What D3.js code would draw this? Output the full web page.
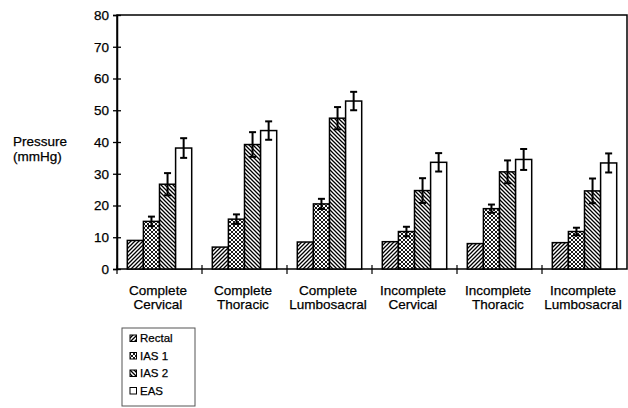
<!DOCTYPE html>
<html><head><meta charset="utf-8">
<script src="https://cdn.jsdelivr.net/npm/d3@7"></script>
<style>body{margin:0;background:#fff}svg{display:block}text{font-family:"Liberation Sans",Arial,sans-serif;fill:#000;stroke:#000;stroke-width:0.25px}</style>
</head><body><svg id="c" width="628" height="408"></svg>
<script>
const categories = [["Complete","Cervical"],["Complete","Thoracic"],["Complete","Lumbosacral"],["Incomplete","Cervical"],["Incomplete","Thoracic"],["Incomplete","Lumbosacral"]];
const seriesNames = ["Rectal","IAS 1","IAS 2","EAS"];
const rectal = [9.0, 6.9, 8.5, 8.6, 8.0, 8.3];
const rectalErr = [0.3, 0.3, 0.3, 0.3, 0.3, 0.3];
const ias1 = [15.0, 15.7, 20.5, 11.8, 19.0, 11.8];
const ias1Err = [1.5, 1.5, 1.6, 1.5, 1.3, 1.2];
const ias2 = [26.7, 39.2, 47.5, 24.7, 30.6, 24.6];
const ias2Err = [3.5, 3.9, 3.5, 3.9, 3.6, 3.9];
const eas = [38.1, 43.6, 52.9, 33.6, 34.5, 33.4];
const easErr = [3.1, 2.9, 2.9, 2.9, 3.3, 3.0];
const yTicks = [0,10,20,30,40,50,60,70,80];

const values = [rectal, ias1, ias2, eas];
const errs = [rectalErr, ias1Err, ias2Err, easErr];
const fills = ["url(#pRectal)","url(#pIas1)","url(#pIas2)","#fff"];

const svg = d3.select("#c");
const L=117, R=627, T=15, B=269;
const x = d3.scaleBand().domain(d3.range(categories.length)).range([L,R]).paddingInner(0).paddingOuter(0);
const xs = d3.scaleBand().domain(d3.range(seriesNames.length)).range([10.3, x.bandwidth()-10.3]).padding(0);
const y = d3.scaleLinear().domain([0,80]).range([B,T]);

const defs = svg.append("defs");
const p1 = defs.append("pattern").attr("id","pRectal").attr("patternUnits","userSpaceOnUse").attr("width",4).attr("height",4);
p1.append("rect").attr("width",4).attr("height",4).attr("fill","#fff");
p1.append("path").attr("d","M-1,1 l2,-2 M0,4 l4,-4 M3,5 l2,-2").attr("stroke","#000").attr("stroke-width",1.3);
const p3 = defs.append("pattern").attr("id","pIas2").attr("patternUnits","userSpaceOnUse").attr("width",4).attr("height",4);
p3.append("rect").attr("width",4).attr("height",4).attr("fill","#fff");
p3.append("path").attr("d","M-1,3 l2,2 M0,0 l4,4 M3,-1 l2,2").attr("stroke","#000").attr("stroke-width",1.3);
const p2 = defs.append("pattern").attr("id","pIas1").attr("patternUnits","userSpaceOnUse").attr("width",4).attr("height",4);
p2.append("rect").attr("width",4).attr("height",4).attr("fill","#fff");
p2.append("path").attr("d","M-1,1 l2,-2 M0,4 l4,-4 M3,5 l2,-2 M-1,3 l2,2 M0,0 l4,4 M3,-1 l2,2").attr("stroke","#000").attr("stroke-width",0.9);

// frame
svg.append("rect").attr("x",L).attr("y",T).attr("width",R-L).attr("height",B-T).attr("fill","none").attr("stroke","#000").attr("stroke-width",1.5);

// y axis
const ya = svg.append("g").attr("transform",`translate(${L},0)`)
  .call(d3.axisLeft(y).tickValues(yTicks).tickSize(4).tickPadding(4));
ya.select(".domain").attr("stroke-width",1.5);
ya.selectAll(".tick line").attr("x2",-4).attr("x1",4).attr("stroke-width",1.3);
ya.selectAll(".tick text").attr("font-size",13.5).attr("font-family","Liberation Sans, Arial, sans-serif").attr("fill","#000");

// x axis ticks at boundaries
const bounds = d3.range(categories.length+1).map(i => L + i*x.step());
svg.selectAll(".xt").data(bounds.slice(0,categories.length)).join("line")
  .attr("x1",d=>d).attr("x2",d=>d).attr("y1",B-4).attr("y2",B+5).attr("stroke","#000").attr("stroke-width",1.2);

// bars
const g = svg.append("g");
categories.forEach((c,i)=>{
  seriesNames.forEach((s,j)=>{
    const v = values[j][i], e = errs[j][i];
    const bx = x(i)+xs(j), bw = xs.bandwidth();
    g.append("rect").attr("x",bx).attr("y",y(v)).attr("width",bw).attr("height",B-y(v))
      .attr("fill",fills[j]).attr("stroke","#000").attr("stroke-width",1.5);
    const cx = bx+bw/2;
    if (e>0.5){
      g.append("line").attr("x1",cx).attr("x2",cx).attr("y1",y(v+e)).attr("y2",y(v-e)).attr("stroke","#000").attr("stroke-width",2);
      [v+e,v-e].forEach(t=>g.append("line").attr("x1",cx-3.5).attr("x2",cx+3.5).attr("y1",y(t)).attr("y2",y(t)).attr("stroke","#000").attr("stroke-width",2));
    }
  });
  const t = svg.append("text").attr("text-anchor","middle").attr("font-size",13.5);
  t.append("tspan").attr("x",x(i)+x.bandwidth()/2-1.5).attr("y",295).text(c[0]);
  t.append("tspan").attr("x",x(i)+x.bandwidth()/2-1.5).attr("y",309).text(c[1]);
});

// y title
svg.append("text").attr("x",13).attr("y",146).attr("font-size",13.5).text("Pressure");
svg.append("text").attr("x",13).attr("y",160.5).attr("font-size",13.5).text("(mmHg)");

// legend
svg.append("rect").attr("x",122).attr("y",328).attr("width",73).attr("height",78).attr("fill","#fff").attr("stroke","#555").attr("stroke-width",1);
seriesNames.forEach((s,j)=>{
  const ly = 338 + j*17.5;
  svg.append("rect").attr("x",130).attr("y",ly-3).attr("width",6.5).attr("height",6.5).attr("fill",fills[j]).attr("stroke","#000").attr("stroke-width",1);
  svg.append("text").attr("x",140).attr("y",ly+4).attr("font-size",11.5).text(s);
});
</script></body></html>
